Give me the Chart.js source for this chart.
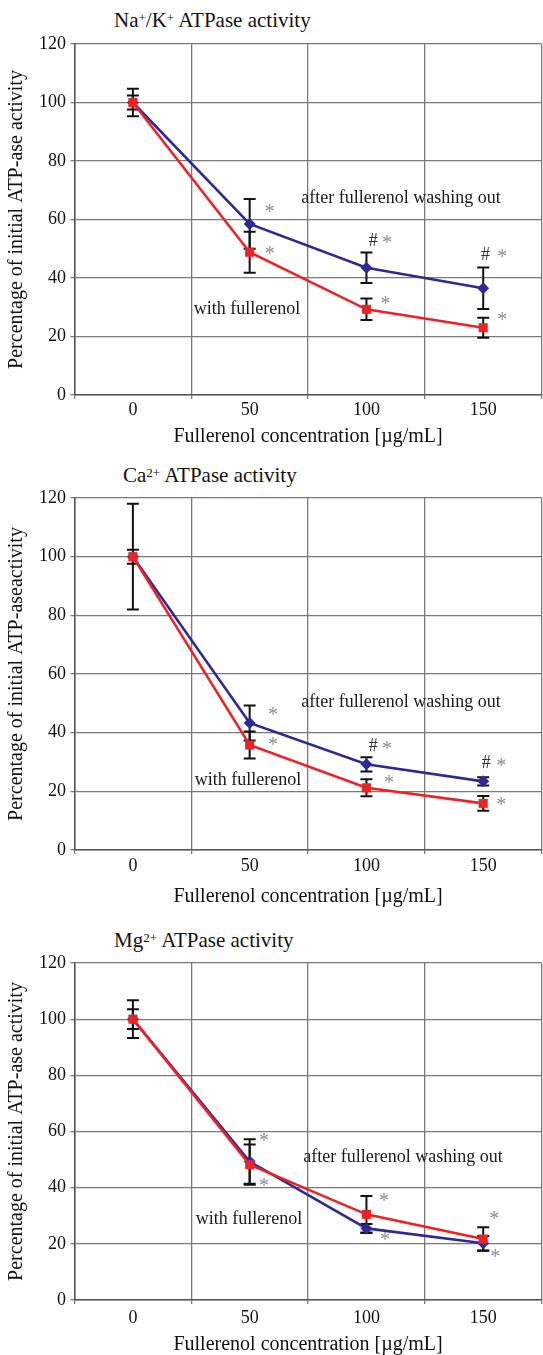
<!DOCTYPE html>
<html>
<head>
<meta charset="utf-8">
<script src="https://cdn.jsdelivr.net/npm/chart.js@4.4.0/dist/chart.umd.min.js"></script>
<style>
  html, body { margin: 0; padding: 0; background: #fff; }
  body { width: 543px; height: 1355px; overflow: hidden; position: relative;
         font-family: 'Liberation Serif', 'Times New Roman', serif; }
  .panel { position: absolute; left: 0; width: 548px; }
  .panel canvas { position: absolute; left: 0; top: 0; }
  .ptitle { position: absolute; font-size: 21px; line-height: 24px; color: #111; white-space: nowrap; }
  .ptitle sup { font-size: 0.62em; position: relative; top: -0.42em; vertical-align: baseline; line-height: 0; }
</style>
</head>
<body>

<div class="ptitle" style="left:114px; top:8px;">Na<sup>+</sup>/K<sup>+</sup> ATPase activity</div>
<div class="ptitle" style="left:123px; top:463px;">Ca<sup>2+</sup> ATPase activity</div>
<div class="ptitle" style="left:114px; top:928px;">Mg<sup>2+</sup> ATPase activity</div>

<div class="panel" style="top:0px; height:450px;"><canvas id="naK" width="548" height="450"></canvas></div>
<div class="panel" style="top:450px; height:460px;"><canvas id="ca" width="548" height="460"></canvas></div>
<div class="panel" style="top:915px; height:445px;"><canvas id="mg" width="548" height="445"></canvas></div>

<script>
// --- data ---
const concentrations = ['0', '50', '100', '150'];
const yTicks = [0, 20, 40, 60, 80, 100, 120];

// Na+/K+ ATPase
const naKWith = [100, 48.8, 29.3, 23.0];
const naKWithErr = [2.4, 7.0, 3.7, 3.4];
const naKWashed = [100, 58.5, 43.5, 36.5];
const naKWashedErr = [4.7, 8.5, 5.2, 7.1];

// Ca2+ ATPase
const caWith = [100, 35.8, 21.2, 15.9];
const caWithErr = [2.4, 4.6, 2.9, 2.5];
const caWashed = [100, 43.3, 29.2, 23.4];
const caWashedErr = [18, 6.0, 2.4, 1.4];

// Mg2+ ATPase
const mgWith = [100, 48.2, 30.5, 21.7];
const mgWithErr = [6.7, 7.2, 6.5, 4.2];
const mgWashed = [100, 49.3, 25.5, 20.2];
const mgWashedErr = [3.5, 7.9, 1.6, 2.6];

// in-plot labels: [text, category position, value]
const naKNotes = [
  ['after fullerenol washing out', 2.296, 67.4],
  ['with fullerenol', 0.978, 29.4],
  ['*', 1.173, 63.2], ['*', 1.173, 48.9],
  ['#', 2.058, 52.6], ['*', 2.177, 52.6], ['*', 2.164, 31.9],
  ['#', 3.019, 47.9], ['*', 3.163, 47.9], ['*', 3.163, 26.3]
];
const caNotes = [
  ['after fullerenol washing out', 2.296, 50.5],
  ['with fullerenol', 0.986, 23.9],
  ['*', 1.199, 46.7], ['*', 1.199, 36.5],
  ['#', 2.058, 35.5], ['*', 2.177, 35.1], ['*', 2.194, 23.5],
  ['#', 3.027, 29.7], ['*', 3.155, 29.3], ['*', 3.155, 16.0]
];
const mgNotes = [
  ['after fullerenol washing out', 2.313, 50.9],
  ['with fullerenol', 0.995, 28.8],
  ['*', 1.122, 57.3], ['*', 1.122, 41.3],
  ['*', 2.151, 36.0], ['*', 2.160, 22.1],
  ['*', 3.095, 29.6], ['*', 3.104, 16.0]
];

const FONT = "'Liberation Serif', 'Times New Roman', serif";
const RED = '#ec2227';
const BLUE = '#2d2a96';

// black error bars with caps, drawn under the lines and markers
const errorBars = {
  id: 'errorBars',
  beforeDatasetsDraw(chart) {
    const { ctx, scales: { x, y } } = chart;
    ctx.save();
    ctx.strokeStyle = '#111';
    ctx.lineWidth = 2;
    chart.data.datasets.forEach(ds => {
      ds.errors.forEach((e, i) => {
        const px = x.getPixelForValue(i);
        const top = y.getPixelForValue(ds.data[i] + e);
        const bot = y.getPixelForValue(ds.data[i] - e);
        ctx.beginPath();
        ctx.moveTo(px, top); ctx.lineTo(px, bot);
        ctx.moveTo(px - 6, top); ctx.lineTo(px + 6, top);
        ctx.moveTo(px - 6, bot); ctx.lineTo(px + 6, bot);
        ctx.stroke();
      });
    });
    ctx.restore();
  }
};

function notesPlugin(list) {
  return {
    id: 'notes',
    afterDatasetsDraw(chart) {
      const { ctx, scales: { x, y } } = chart;
      ctx.save();
      ctx.textAlign = 'center';
      ctx.textBaseline = 'middle';
      list.forEach(([text, pos, val]) => {
        const px = x.getPixelForValue(pos);
        let py = y.getPixelForValue(val);
        if (text === '*') {
          ctx.font = '20px ' + FONT;
          ctx.fillStyle = '#8c8c8c';
          py += 3;
        } else if (text === '#') {
          ctx.font = '18px ' + FONT;
          ctx.fillStyle = '#333';
        } else {
          ctx.font = '18px ' + FONT;
          ctx.fillStyle = '#1a1a1a';
        }
        ctx.fillText(text, px, py);
      });
      ctx.restore();
    }
  };
}

function makeChart(id, withVals, withErr, washVals, washErr, notes, yTitle, layout) {
  const ctx = document.getElementById(id).getContext('2d');
  return new Chart(ctx, {
    type: 'line',
    data: {
      labels: concentrations,
      datasets: [
        {
          label: 'with fullerenol',
          data: withVals,
          errors: withErr,
          borderColor: RED,
          backgroundColor: RED,
          borderWidth: 2.6,
          pointStyle: 'rect',
          pointRadius: 6.4,
          pointBorderWidth: 0,
          tension: 0
        },
        {
          label: 'after fullerenol washing out',
          data: washVals,
          errors: washErr,
          borderColor: BLUE,
          backgroundColor: BLUE,
          borderWidth: 2.6,
          pointStyle: 'rectRot',
          pointRadius: 6,
          pointBorderWidth: 0,
          tension: 0
        }
      ]
    },
    options: {
      responsive: false,
      animation: false,
      layout: { padding: { left: 5, right: 3, top: layout.top, bottom: layout.bottom } },
      plugins: { legend: { display: false }, tooltip: { enabled: false } },
      scales: {
        x: {
          offset: true,
          grid: { offset: true, color: '#7a7a7a', lineWidth: 1.3, tickLength: 4 },
          border: { color: '#555', width: 1.5 },
          ticks: { font: { family: FONT, size: 18 }, color: '#111', padding: layout.tickPad, maxRotation: 0 },
          title: { display: true, text: 'Fullerenol concentration [µg/mL]', font: { family: FONT, size: 20 },
                   color: '#111', padding: 0 },
          afterFit: s => { s.height = layout.xh; }
        },
        y: {
          min: 0, max: 120,
          afterBuildTicks: s => { s.ticks = yTicks.map(v => ({ value: v })); },
          grid: { color: '#7a7a7a', lineWidth: 1.3, tickLength: 4 },
          border: { color: '#555', width: 1.5 },
          ticks: { font: { family: FONT, size: 18 }, color: '#111', padding: 4.5 },
          title: { display: true, text: yTitle, font: { family: FONT, size: 20 }, color: '#111', padding: 0 },
          afterFit: s => { s.width = 69.5; }
        }
      }
    },
    plugins: [errorBars, notesPlugin(notes)]
  });
}

makeChart('naK', naKWith, naKWithErr, naKWashed, naKWashedErr, naKNotes,
  'Percentage of initial ATP-ase activity', { top: 44, bottom: 1, xh: 54, tickPad: 0 });
makeChart('ca', caWith, caWithErr, caWashed, caWashedErr, caNotes,
  'Percentage of initial ATP-aseactivity', { top: 48, bottom: 1, xh: 59, tickPad: 1 });
makeChart('mg', mgWith, mgWithErr, mgWashed, mgWashedErr, mgNotes,
  'Percentage of initial ATP-ase activity', { top: 48, bottom: 3, xh: 57, tickPad: 3 });
</script>
</body>
</html>
